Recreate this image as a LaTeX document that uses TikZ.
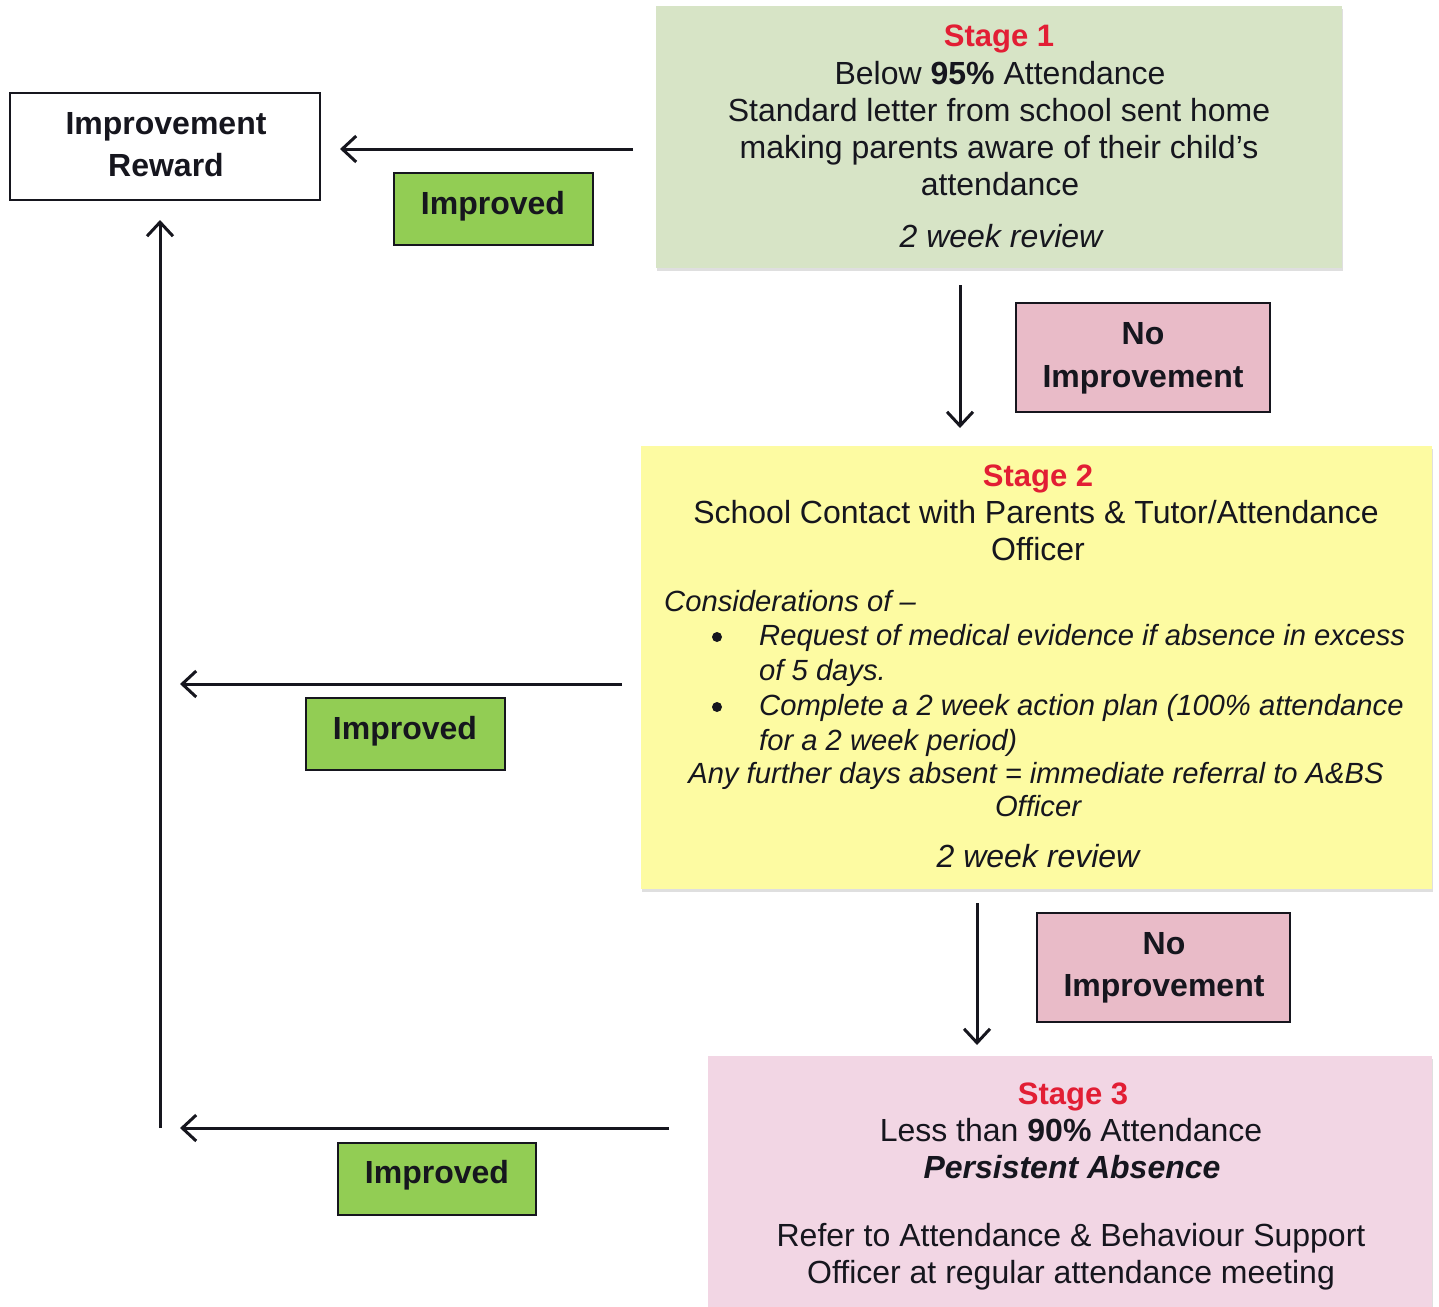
\documentclass[tikz,border=0pt]{standalone}
\usepackage{fontspec}
\setmainfont{Liberation Sans}
\usetikzlibrary{arrows.meta,shadows}
\definecolor{ink}{RGB}{22,22,30}
\definecolor{sonefill}{RGB}{215,228,198}
\definecolor{stwofill}{RGB}{253,251,162}
\definecolor{sthreefill}{RGB}{242,214,228}
\definecolor{nofill}{RGB}{233,187,200}
\definecolor{impfill}{RGB}{146,205,84}
\definecolor{stagered}{RGB}{226,30,52}
\tikzset{
  box/.style={draw=ink, line width=2pt, inner sep=0pt, outer sep=0pt, anchor=north west},
  stagebox/.style={draw=none, inner sep=0pt, outer sep=0pt, anchor=north west,
    drop shadow={opacity=0.25, shadow xshift=1pt, shadow yshift=-3pt}},
  txt/.style={inner sep=0pt, anchor=base, text=ink, font=\fontsize{32}{37}\selectfont},
  btxt/.style={txt, font=\fontsize{32}{37}\selectfont\bfseries},
  itxt/.style={txt, font=\fontsize{32}{37}\selectfont\itshape},
  sitxt/.style={txt, font=\fontsize{29.2}{35}\selectfont\itshape},
  stagehead/.style={txt, text=stagered, font=\fontsize{31}{37}\selectfont\bfseries},
  dot/.style={circle, fill=ink, inner sep=0pt, minimum size=10pt},
  arr/.style={draw=ink, line width=3pt, -{Straight Barb[length=14pt, width=26pt]}}
}
\begin{document}
\begin{tikzpicture}[x=1pt,y=-1pt]
\useasboundingbox (0,0) rectangle (1439,1306);
\fill[white] (0,0) rectangle (1439,1306);

% boxes
\node[box, fill=white, minimum width=310pt, minimum height=107pt] (reward) at (10,93) {};
\node[stagebox, fill=sonefill, minimum width=686pt, minimum height=262pt] (s1) at (656,6) {};
\node[stagebox, fill=stwofill, minimum width=791pt, minimum height=443pt] (s2) at (641,446) {};
\node[stagebox, fill=sthreefill, minimum width=724pt, minimum height=260pt] (s3) at (708,1056) {};
\node[box, fill=impfill, minimum width=199pt, minimum height=72pt] (imp1) at (394,173) {};
\node[box, fill=impfill, minimum width=199pt, minimum height=72pt] (imp2) at (306,698) {};
\node[box, fill=impfill, minimum width=198pt, minimum height=72pt] (imp3) at (338,1143) {};
\node[box, fill=nofill, minimum width=254pt, minimum height=109pt] (no1) at (1016,303) {};
\node[box, fill=nofill, minimum width=253pt, minimum height=109pt] (no2) at (1037,913) {};

% reward text
\node[btxt] (rw1) at (166,134) {Improvement};
\node[btxt] (rw2) at (166,176) {Reward};

% improved labels
\node[btxt] (imp1t) at (493,214) {Improved};
\node[btxt] (imp2t) at (405,739) {Improved};
\node[btxt] (imp3t) at (437,1183) {Improved};

% no improvement labels
\node[btxt] (no1a) at (1143,344) {No};
\node[btxt] (no1b) at (1143,387) {Improvement};
\node[btxt] (no2a) at (1164,954) {No};
\node[btxt] (no2b) at (1164,996) {Improvement};

% stage 1 text
\node[stagehead] (s1h) at (999,47) {Stage 1};
\node[txt] (s1a) at (1000,84) {Below \textbf{95\%} Attendance};
\node[txt] (s1b) at (999,121) {Standard letter from school sent home};
\node[txt] (s1c) at (999,158) {making parents aware of their child’s};
\node[txt] (s1d) at (1000,195) {attendance};
\node[itxt] (s1e) at (1001,247) {2 week review};

% stage 2 text
\node[stagehead] (s2h) at (1038,486) {Stage 2};
\node[txt] (s2a) at (1036,523) {School Contact with Parents \& Tutor/Attendance};
\node[txt] (s2b) at (1038,560) {Officer};
\node[sitxt, anchor=base west] (s2c) at (664,611) {Considerations of –};
\node[dot] (bul1) at (717,637) {};
\node[sitxt, anchor=base west] (s2d) at (759,645) {Request of medical evidence if absence in excess};
\node[sitxt, anchor=base west] (s2e) at (759,680) {of 5 days.};
\node[dot] (bul2) at (717,707) {};
\node[sitxt, anchor=base west] (s2f) at (759,715) {Complete a 2 week action plan (100\% attendance};
\node[sitxt, anchor=base west] (s2g) at (759,750) {for a 2 week period)};
\node[sitxt] (s2h2) at (1036,783) {Any further days absent = immediate referral to A\&BS};
\node[sitxt] (s2i) at (1038,816) {Officer};
\node[itxt] (s2j) at (1038,867) {2 week review};

% stage 3 text
\node[stagehead] (s3h) at (1073,1104) {Stage 3};
\node[txt] (s3a) at (1071,1141) {Less than \textbf{90\%} Attendance};
\node[txt, font=\fontsize{32}{37}\selectfont\bfseries\itshape] (s3b) at (1072,1178) {Persistent Absence};
\node[txt] (s3c) at (1071,1246) {Refer to Attendance \& Behaviour Support};
\node[txt] (s3d) at (1071,1283) {Officer at regular attendance meeting};

% connectors
\coordinate (t2) at (160,684);
\coordinate (t3) at (160,1128);
\draw[arr, shorten <=23pt, shorten >=20pt] (s1.west |- 0,149) coordinate (a1) -- (a1 -| reward.east);
\draw[arr, shorten <=19pt, shorten >=20pt] (s2.west |- t2) -- (t2);
\draw[arr, shorten <=39pt, shorten >=20pt] (s3.west |- t3) -- (t3);
\draw[arr, shorten >=20pt] (t3) -- (t3 |- reward.south);
\draw[arr, shorten <=17pt, shorten >=18pt] ([xshift=-39pt]s1.south) coordinate (d1) -- (d1 |- s2.north);
\draw[arr, shorten <=14pt, shorten >=11pt] ([xshift=-59.5pt]s2.south) coordinate (d2) -- (d2 |- s3.north);
\end{tikzpicture}
\end{document}
